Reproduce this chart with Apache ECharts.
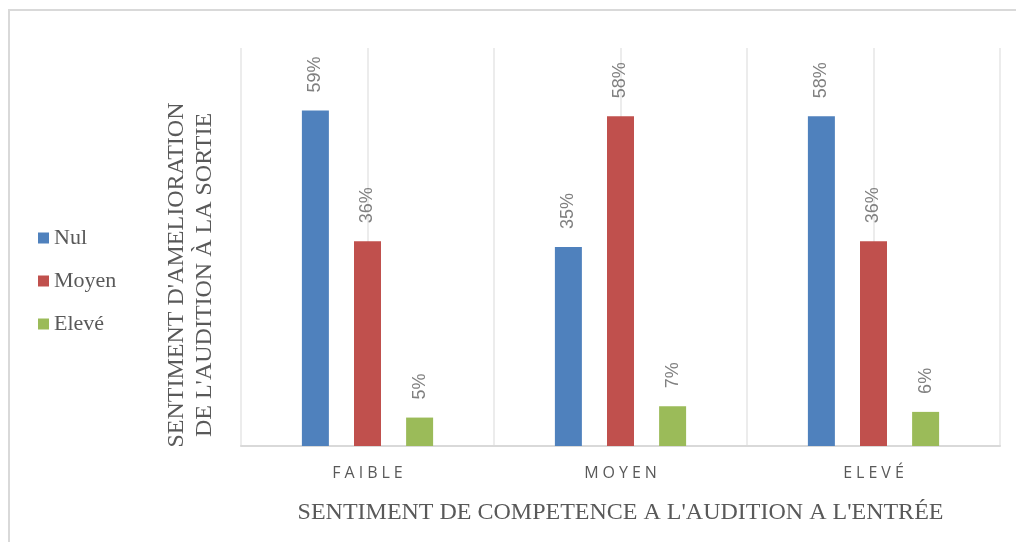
<!DOCTYPE html>
<html>
<head>
<meta charset="utf-8">
<script src="https://cdn.jsdelivr.net/npm/echarts@6/dist/echarts.min.js"></script>
<style>
  html, body { margin: 0; padding: 0; background: #fff; }
  #main { width: 1016px; height: 542px; }
</style>
</head>
<body>
<div id="main"></div>
<script>
// categories (niveau a l'entree) and series values (%)
var categories = ["FAIBLE", "MOYEN", "ELEVÉ"];
var seriesNames = ["Nul", "Moyen", "Elevé"];
var nulData = [59, 35, 58];
var moyenData = [36, 58, 36];
var eleveData = [5, 7, 6];
var gridSlots = ["", "", "", "", "", ""];

var chart = echarts.init(document.getElementById("main"));

// espacement des lettres comme dans Excel
function spaced(s) {
  return s.split("").join("\u2005");
}

var labelStyle = {
  show: true,
  position: "top",
  rotate: 90,
  align: "left",
  verticalAlign: "middle",
  distance: 18,
  formatter: "{c}%",
  color: "#808080",
  fontSize: 18,
  fontFamily: "Liberation Sans"
};

var option = {
  animation: false,
  color: ["#4F81BD", "#C0504D", "#9BBB59"],
  grid: { left: 241, right: 16, top: 48, bottom: 96 },
  legend: {
    orient: "vertical",
    left: 38,
    top: 227,
    padding: 0,
    icon: "rect",
    itemWidth: 11,
    itemHeight: 11,
    itemGap: 21,
    data: seriesNames,
    textStyle: { color: "#595959", fontSize: 22, fontFamily: "Liberation Serif" }
  },
  graphic: [
    {
      type: "polyline",
      shape: { points: [[9, 542], [9, 10], [1016, 10]] },
      style: { stroke: "#d9d9d9", lineWidth: 2, fill: null }
    },
    {
      type: "text",
      x: 191,
      y: 275,
      rotation: Math.PI / 2,
      style: {
        text: "SENTIMENT D'AMELIORATION\nDE L'AUDITION À LA SORTIE",
        fill: "#595959",
        fontSize: 24,
        fontFamily: "Liberation Serif",
        align: "center",
        verticalAlign: "middle",
        lineHeight: 28
      }
    }
  ],
  xAxis: [
    {
      type: "category",
      data: categories,
      axisLine: { lineStyle: { color: "#d9d9d9", width: 2 } },
      axisTick: { show: false },
      axisLabel: {
        margin: 19,
        color: "#595959",
        fontSize: 16,
        fontFamily: "Open Sans",
        formatter: spaced
      },
      splitLine: { show: false },
      name: "SENTIMENT DE COMPETENCE A L'AUDITION A L'ENTRÉE",
      nameLocation: "middle",
      nameGap: 55,
      nameTextStyle: {
        color: "#595959",
        fontSize: 24,
        fontFamily: "Liberation Serif",
        verticalAlign: "top"
      }
    },
    {
      type: "category",
      data: gridSlots,
      position: "bottom",
      axisLine: { show: false },
      axisTick: { show: false },
      axisLabel: { show: false },
      splitLine: { show: true, lineStyle: { color: "#e6e6e6", width: 1.5 } }
    }
  ],
  yAxis: {
    type: "value",
    min: 0,
    max: 70,
    show: false
  },
  series: [
    { name: seriesNames[0], type: "bar", data: nulData, barWidth: 27, barGap: "93%", label: labelStyle },
    { name: seriesNames[1], type: "bar", data: moyenData, barWidth: 27, barGap: "93%", label: labelStyle },
    { name: seriesNames[2], type: "bar", data: eleveData, barWidth: 27, barGap: "93%", label: labelStyle }
  ]
};

chart.setOption(option);
</script>
</body>
</html>
